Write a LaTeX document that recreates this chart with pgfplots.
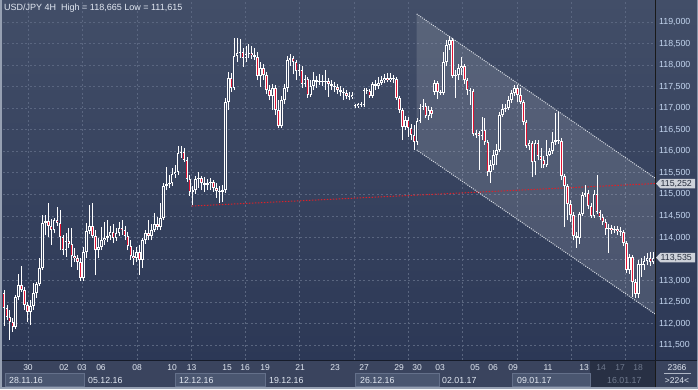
\documentclass[border=0pt]{standalone}
\usepackage{pgfplots}
\pgfplotsset{compat=1.18}
\usepackage{pgfplotstable}
\usetikzlibrary{backgrounds}
\usepackage{fontspec}
\setmainfont{Liberation Sans}
\definecolor{bgtop}{RGB}{66,78,104}
\definecolor{bgbot}{RGB}{44,56,86}
\definecolor{panel}{RGB}{58,68,94}
\definecolor{boxfill}{RGB}{74,86,112}
\definecolor{boxline}{RGB}{100,112,138}
\definecolor{gridc}{RGB}{90,102,128}
\definecolor{tickc}{RGB}{196,214,240}
\definecolor{bear}{RGB}{226,20,52}
\definecolor{hollow}{RGB}{56,68,95}
\definecolor{framec}{RGB}{150,160,178}
\definecolor{lbl}{RGB}{206,210,218}
\definecolor{lbltext}{RGB}{36,44,60}
\definecolor{txt}{RGB}{226,232,242}
\definecolor{dimtxt}{RGB}{112,122,142}
\definecolor{dimfill}{RGB}{40,48,68}
\definecolor{redline}{RGB}{222,32,40}
\definecolor{sepc}{RGB}{22,28,42}
\definecolor{chan}{RGB}{215,220,228}

\pgfplotstableread{
i O H L C
0 112.71 112.78 111.95 112.36
1 112.36 112.43 112.09 112.15
2 112.15 112.32 111.62 112.04
3 112.04 112.13 111.81 111.92
4 111.92 112.67 111.88 112.62
5 112.62 113.15 112.55 112.90
6 112.90 113.34 112.74 112.78
7 112.78 112.85 112.32 112.43
8 112.43 112.50 112.04 112.27
9 112.27 112.55 111.97 112.41
10 112.41 112.94 112.32 112.71
11 112.71 112.97 112.60 112.92
12 112.92 113.52 112.88 113.29
13 113.29 114.52 113.25 114.34
14 114.34 114.52 114.06 114.38
15 114.38 114.80 114.01 114.27
16 114.27 114.43 113.83 114.17
17 114.17 114.45 114.10 114.41
18 114.41 114.71 114.27 114.34
19 114.34 114.64 113.71 114.01
20 114.01 114.06 113.59 113.71
21 113.71 114.10 113.55 113.92
22 113.92 114.22 113.76 113.85
23 113.85 114.22 113.32 113.57
24 113.57 113.76 113.43 113.52
25 113.52 113.59 113.25 113.43
26 113.43 113.52 112.99 113.06
27 113.06 113.78 112.99 113.66
28 113.66 114.34 113.52 114.15
29 114.15 114.75 114.08 114.27
30 114.27 114.80 113.99 114.03
31 114.03 114.17 113.13 113.71
32 113.71 113.99 113.52 113.78
33 113.78 114.24 113.71 113.94
34 113.94 114.36 113.83 113.99
35 113.99 114.41 113.90 114.03
36 114.03 114.27 113.94 114.13
37 114.13 114.31 113.87 113.99
38 113.99 114.22 113.92 114.10
39 114.10 114.36 114.03 114.22
40 114.22 114.41 114.06 114.17
41 114.17 114.27 113.94 114.03
42 114.03 114.13 113.71 113.80
43 113.80 113.94 113.48 113.57
44 113.57 113.71 113.36 113.52
45 113.52 113.78 113.43 113.66
46 113.66 113.83 113.13 113.48
47 113.48 113.99 113.29 113.94
48 113.94 114.17 113.85 114.10
49 114.10 114.41 113.94 114.03
50 114.03 114.31 113.94 114.17
51 114.17 114.57 114.13 114.31
52 114.31 114.48 114.17 114.24
53 114.24 114.80 114.17 114.45
54 114.45 115.26 114.41 115.20
55 115.20 115.64 115.10 115.24
56 115.24 115.45 115.15 115.26
57 115.26 115.61 115.20 115.47
58 115.47 115.68 115.38 115.52
59 115.52 116.12 115.45 115.96
60 115.96 116.12 115.84 115.98
61 115.98 116.08 115.75 115.80
62 115.80 115.87 115.29 115.36
63 115.36 115.45 114.96 115.06
64 115.06 115.19 114.75 115.10
65 115.10 115.43 115.01 115.36
66 115.36 115.52 115.15 115.38
67 115.38 115.43 115.10 115.26
68 115.26 115.40 115.06 115.22
69 115.22 115.36 115.10 115.26
70 115.26 115.38 115.10 115.29
71 115.29 115.33 115.06 115.15
72 115.15 115.26 114.92 115.08
73 115.08 115.19 114.80 115.06
74 115.06 115.22 114.82 115.10
75 115.10 117.24 115.03 117.14
76 117.14 117.84 116.96 117.70
77 117.70 117.82 117.38 117.47
78 117.47 118.63 117.42 118.21
79 118.21 118.63 118.07 118.28
80 118.28 118.60 118.16 118.30
81 118.30 118.40 117.96 118.16
82 118.16 118.44 118.07 118.26
83 118.26 118.49 118.16 118.28
84 118.28 118.44 118.14 118.23
85 118.23 118.40 118.12 118.19
86 118.19 118.30 117.65 117.75
87 117.75 118.07 117.49 117.93
88 117.93 118.03 117.65 117.77
89 117.77 117.84 117.33 117.42
90 117.42 117.54 117.19 117.28
91 117.28 117.56 116.96 117.47
92 117.47 117.54 116.84 116.96
93 116.96 117.19 116.54 116.59
94 116.59 117.28 116.54 117.19
95 117.19 117.56 117.10 117.47
96 117.47 118.21 117.38 118.12
97 118.12 118.26 117.98 118.16
98 118.16 118.21 117.79 118.07
99 118.07 118.12 117.65 117.86
100 117.86 118.03 117.75 117.89
101 117.89 117.98 117.47 117.56
102 117.56 117.77 117.49 117.68
103 117.68 117.72 117.24 117.31
104 117.31 117.65 117.26 117.52
105 117.52 117.84 117.42 117.65
106 117.65 117.75 117.47 117.61
107 117.61 117.79 117.54 117.63
108 117.63 117.77 117.52 117.61
109 117.61 117.89 117.42 117.63
110 117.63 117.70 117.26 117.56
111 117.56 117.65 117.42 117.52
112 117.52 117.61 117.38 117.49
113 117.49 117.56 117.33 117.42
114 117.42 117.52 117.28 117.38
115 117.38 117.47 117.19 117.35
116 117.35 117.42 117.21 117.28
117 117.28 117.38 117.19 117.26
118 117.26 117.38 117.21 117.31
119 117.07 117.10 117.00 117.05
120 117.05 117.12 117.00 117.10
121 117.10 117.14 117.03 117.07
122 117.07 117.47 117.03 117.42
123 117.42 117.47 117.33 117.40
124 117.40 117.45 117.24 117.28
125 117.28 117.61 117.24 117.56
126 117.56 117.65 117.42 117.52
127 117.52 117.72 117.45 117.58
128 117.58 117.75 117.54 117.65
129 117.65 117.79 117.58 117.70
130 117.70 117.82 117.61 117.65
131 117.65 117.82 117.61 117.70
132 117.70 117.77 117.58 117.68
133 117.68 117.72 117.19 117.24
134 117.24 117.28 116.89 116.96
135 116.96 117.00 116.26 116.56
136 116.56 116.82 116.49 116.73
137 116.73 116.80 116.33 116.54
138 116.54 116.63 116.26 116.38
139 116.38 116.61 116.03 116.22
140 116.22 116.77 116.15 116.70
141 116.70 117.10 116.66 117.00
142 117.00 117.21 116.96 117.05
143 117.05 117.12 116.77 116.82
144 116.82 117.05 116.73 116.96
145 116.96 117.03 116.77 116.87
146 117.38 117.65 117.31 117.58
147 117.58 117.63 117.21 117.38
148 117.38 117.42 117.31 117.35
149 117.35 118.30 117.31 118.07
150 118.07 118.58 117.98 118.47
151 118.47 118.665 118.35 118.58
152 118.58 118.63 117.70 117.75
153 117.75 117.89 117.24 117.77
154 117.77 118.03 117.65 117.93
155 117.93 118.19 117.77 117.98
156 117.98 118.03 117.56 117.65
157 117.65 117.70 117.31 117.42
158 117.42 117.47 117.07 117.40
159 117.40 117.45 116.35 116.40
160 116.38 116.49 116.31 116.42
161 116.42 116.47 115.57 116.35
162 116.35 116.80 116.26 116.49
163 116.49 116.77 116.15 116.22
164 116.22 116.26 115.43 115.52
165 115.52 115.80 115.26 115.68
166 115.68 116.03 115.57 115.91
167 115.91 116.17 115.68 116.03
168 116.03 116.91 115.98 116.84
169 116.84 117.10 116.80 116.98
170 116.98 117.10 116.91 117.00
171 117.00 117.28 116.96 117.19
172 117.19 117.42 117.12 117.35
173 117.35 117.54 117.28 117.47
174 117.47 117.54 117.14 117.31
175 117.31 117.47 117.10 117.14
176 117.14 117.19 116.61 116.68
177 116.68 116.73 116.08 116.12
178 116.12 116.26 116.03 116.19
179 116.19 116.24 115.40 115.75
180 115.75 116.26 115.45 116.19
181 116.19 116.26 115.80 115.89
182 115.89 116.08 115.61 115.80
183 115.80 115.89 115.61 115.68
184 115.68 116.26 115.64 115.91
185 115.91 116.08 115.89 116.01
186 116.01 116.45 115.94 116.22
187 116.22 116.89 116.15 116.26
188 116.26 116.91 116.17 116.24
189 116.24 116.31 115.33 115.43
190 115.43 115.47 114.24 115.19
191 115.19 115.24 114.40 114.78
192 114.78 114.87 114.36 114.52
193 114.52 114.59 113.94 114.03
194 114.03 114.13 113.76 113.99
195 113.99 114.59 113.85 114.55
196 114.55 115.06 114.50 114.99
197 114.99 115.22 114.94 115.03
198 115.03 115.10 114.66 114.73
199 114.73 114.80 114.45 114.50
200 114.50 115.10 114.45 115.01
201 115.01 115.45 114.55 114.59
202 114.59 114.64 114.40 114.48
203 114.48 114.55 114.29 114.36
204 114.36 114.43 114.06 114.20
205 114.20 114.31 113.64 114.22
206 114.22 114.29 114.08 114.17
207 114.17 114.27 114.10 114.20
208 114.20 114.27 114.06 114.15
209 114.15 114.24 114.03 114.13
210 114.13 114.17 113.80 113.87
211 113.87 113.92 113.18 113.25
212 113.25 113.62 113.15 113.55
213 113.55 113.59 112.62 112.97
214 112.97 113.04 112.60 112.69
215 112.69 113.48 112.60 113.38
216 113.38 113.52 113.08 113.36
217 113.36 113.57 113.25 113.45
218 113.45 113.64 113.36 113.52
219 113.52 113.66 113.34 113.43
220 113.43 113.66 113.39 113.535
}\candles

\pgfplotsset{
  errbase/.style={draw=none, mark=none, forget plot,
    error bars/y dir=plus, error bars/y explicit, error bars/error mark=none},
}

\begin{document}
\begin{tikzpicture}[x=1pt,y=1pt]
\begin{axis}[scale only axis,
  width=652pt, height=358pt,
  xmin=-0.339, xmax=220.68, ymin=111.158, ymax=119.464,
  axis line style={draw=none}, tick style={draw=none},
  xtick={8.24,26.65,45.06,63.47,81.88,100.29,118.70,137.11,155.52,173.93,192.34,210.75},
  xticklabels={},
  ytick={111.5,112,112.5,113,114,114.5,115,115.5,116,116.5,117,117.5,118,118.5,119},
  extra y ticks={113.5}, extra y tick labels={}, extra y tick style={grid=major},
  xmajorgrids, ymajorgrids,
  grid style={gridc, dash pattern=on 2pt off 2.5pt, line width=0.8pt},
  yticklabel pos=right,
  yticklabel style={font=\fontsize{8.8}{10}\selectfont, text=tickc, anchor=west, inner sep=0.5pt, xshift=3.5pt},
  /pgf/number format/.cd, fixed, fixed zerofill, precision=3, use comma, assume math mode=true]
\coordinate (O) at (rel axis cs:0,0);

% channel
\addplot[fill=white, fill opacity=0.13, draw=none, forget plot]
  coordinates {(139.9,119.186) (220.68,115.381) (220.68,112.227) (139.9,116.031)} -- cycle;
\addplot[chan, line width=1pt, dash pattern=on 1pt off 1.2pt, forget plot]
  coordinates {(139.9,119.186) (220.68,115.381)};
\addplot[chan, line width=1pt, dash pattern=on 1pt off 1.2pt, forget plot]
  coordinates {(139.9,116.031) (220.68,112.227)};
% red level line
\addplot[redline, line width=1pt, dash pattern=on 1.5pt off 1.5pt, forget plot]
  coordinates {(63.7,114.73) (220.68,115.252)};

% wicks
\addplot[errbase, error bars/error bar style={draw=white, line width=0.8pt, solid}]
  table[x=i, y=L, y error plus expr={\thisrow{H}-\thisrow{L}}]{\candles};
% bodies
\addplot[errbase, error bars/error bar style={draw=white, line width=2.6pt, solid}]
  table[x=i, y expr={min(\thisrow{O},\thisrow{C})}, y error plus expr={abs(\thisrow{C}-\thisrow{O})}]{\candles};
% bear interiors
\addplot[errbase, restrict expr to domain={\thisrow{O}-\thisrow{C}}{0.0001:100},
  error bars/error bar style={draw=bear, line width=1pt, solid}]
  table[x=i, y expr={\thisrow{C}+0.023}, y error plus expr={max(\thisrow{O}-\thisrow{C}-0.046,0)}]{\candles};
% bull interiors (hollow)
\addplot[errbase, restrict expr to domain={\thisrow{C}-\thisrow{O}}{0.0001:100},
  error bars/error bar style={draw=hollow, line width=1pt, solid}]
  table[x=i, y expr={\thisrow{O}+0.023}, y error plus expr={max(\thisrow{C}-\thisrow{O}-0.046,0)}]{\candles};
\end{axis}

\begin{scope}[shift={(O)}, shift={(-3,-29)}]
\begin{scope}[on background layer]
\fill[framec] (0,0) rectangle (698,389);
\shade[top color=bgtop, bottom color=bgbot] (2,29) rectangle (697,389);
\fill[panel] (2,2) rectangle (697,29);
\end{scope}

% separators
\draw[black!90, line width=1pt] (655.5,2) -- (655.5,389);
\draw[sepc, line width=1pt] (2,29) -- (697,29);

% title
\node[anchor=west, inner sep=0, font=\fontsize{9}{10}\selectfont, text=txt] at (4,381) {USD/JPY 4H\ \ High = 118,665 Low = 111,615};

% price labels
\fill[lbl] (656,205.4) -- (660.5,210.2) -- (695,210.2) -- (695,200.6) -- (660.5,200.6) -- cycle;
\node[anchor=west, inner sep=0, font=\fontsize{8.8}{10}\selectfont, text=lbltext] at (660.5,205.4) {115,252};
\fill[lbl] (656,131.4) -- (660.5,136.2) -- (695,136.2) -- (695,126.6) -- (660.5,126.6) -- cycle;
\node[anchor=west, inner sep=0, font=\fontsize{8.8}{10}\selectfont, text=lbltext] at (660.5,131.4) {113,535};

% bottom time axis
\fill[dimfill] (590,2) rectangle (655,28.5);
\filldraw[fill=boxfill, draw=boxline, line width=0.8pt] (5,2.5) rectangle (84,15.5);
\filldraw[fill=boxfill, draw=boxline, line width=0.8pt] (175,2.5) rectangle (265,15.5);
\filldraw[fill=boxfill, draw=boxline, line width=0.8pt] (355,2.5) rectangle (439,15.5);
\filldraw[fill=boxfill, draw=boxline, line width=0.8pt] (512,2.5) rectangle (590,15.5);
\foreach \x/\t in {9/28.11.16, 88/05.12.16, 179/12.12.16, 269/19.12.16, 360/26.12.16, 442/02.01.17, 517/09.01.17}
  \node[anchor=west, inner sep=0, font=\fontsize{8.8}{10}\selectfont, text=txt] at (\x,8.5) {\t};
\node[anchor=west, inner sep=0, font=\fontsize{8.8}{10}\selectfont, text=dimtxt] at (607,8.5) {16.01.17};
\foreach \x/\t in {28/30, 64/02, 82/03, 101/06, 137/08, 172/10, 191.5/13, 227/15, 245/16, 265/19, 300/21, 335/23, 364/27, 399/29, 417/30, 440/03, 475/05, 493/06, 513/09, 548/11, 584/13}
  \node[inner sep=0, font=\fontsize{8.5}{10}\selectfont, text=txt] at (\x,21) {\t};
\foreach \x/\t in {601/14, 620/17, 638/18}
  \node[inner sep=0, font=\fontsize{8.5}{10}\selectfont, text=dimtxt] at (\x,21) {\t};

% corner
\node[inner sep=0, font=\fontsize{8.5}{10}\selectfont, text=txt] at (677,21) {2366};
\draw[txt!70!panel, line width=0.6pt] (664,15.5) -- (691,15.5);
\node[inner sep=0, font=\fontsize{8.5}{10}\selectfont, text=txt] at (677,8.5) {>224<};

\pgfresetboundingbox
\path[use as bounding box] (0,0) rectangle (698,389);
\end{scope}
\end{tikzpicture}
\end{document}
